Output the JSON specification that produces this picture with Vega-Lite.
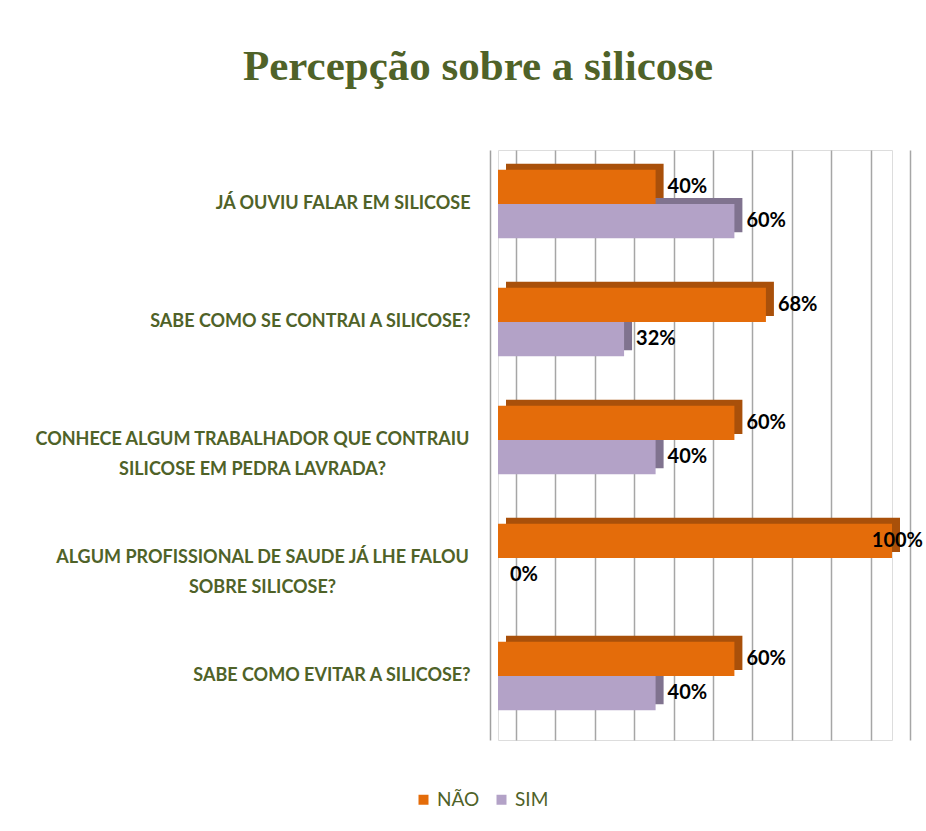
{
  "$schema": "https://vega.github.io/schema/vega-lite/v6.json",
  "width": 394,
  "height": 590,
  "autosize": {"type": "none"},
  "padding": {"left": 498, "top": 150, "right": 34, "bottom": 91},
  "background": "white",
  "title": {
    "text": "Percepção sobre a silicose",
    "font": "Liberation Serif",
    "fontSize": 43,
    "fontWeight": "bold",
    "color": "#4F6228",
    "anchor": "middle",
    "frame": "group",
    "dx": -217,
    "offset": 27,
    "baseline": "alphabetic"
  },
  "data": {
    "values": [
      {"pergunta": "JÁ OUVIU FALAR EM SILICOSE", "resposta": "NÃO", "valor": 0.40},
      {"pergunta": "JÁ OUVIU FALAR EM SILICOSE", "resposta": "SIM", "valor": 0.60},
      {"pergunta": "SABE COMO SE CONTRAI A SILICOSE?", "resposta": "NÃO", "valor": 0.68},
      {"pergunta": "SABE COMO SE CONTRAI A SILICOSE?", "resposta": "SIM", "valor": 0.32},
      {"pergunta": "CONHECE ALGUM TRABALHADOR QUE CONTRAIU SILICOSE EM PEDRA LAVRADA?", "resposta": "NÃO", "valor": 0.60},
      {"pergunta": "CONHECE ALGUM TRABALHADOR QUE CONTRAIU SILICOSE EM PEDRA LAVRADA?", "resposta": "SIM", "valor": 0.40},
      {"pergunta": "ALGUM PROFISSIONAL DE SAUDE JÁ LHE FALOU SOBRE SILICOSE?", "resposta": "NÃO", "valor": 1.00},
      {"pergunta": "ALGUM PROFISSIONAL DE SAUDE JÁ LHE FALOU SOBRE SILICOSE?", "resposta": "SIM", "valor": 0.00},
      {"pergunta": "SABE COMO EVITAR A SILICOSE?", "resposta": "NÃO", "valor": 0.60},
      {"pergunta": "SABE COMO EVITAR A SILICOSE?", "resposta": "SIM", "valor": 0.40}
    ]
  },
  "encoding": {
    "y": {
      "field": "pergunta",
      "type": "nominal",
      "sort": null,
      "scale": {"paddingInner": 0.42, "paddingOuter": 0.21, "align": 0.4},
      "axis": {
        "title": null,
        "offset": 8,
        "ticks": false,
        "domainColor": "#A0A0A0",
        "domainWidth": 1.5,
        "labelFont": "Lato",
        "labelFontSize": 18,
        "labelFontWeight": "bold",
        "labelColor": "#4F6228",
        "labelLimit": 0,
        "labelLineHeight": 30,
        "labelBaseline": "middle",
        "labelExpr": "datum.value == 'CONHECE ALGUM TRABALHADOR QUE CONTRAIU SILICOSE EM PEDRA LAVRADA?' ? ['CONHECE ALGUM TRABALHADOR QUE CONTRAIU', 'SILICOSE EM PEDRA LAVRADA?'] : datum.value == 'ALGUM PROFISSIONAL DE SAUDE JÁ LHE FALOU SOBRE SILICOSE?' ? ['ALGUM PROFISSIONAL DE SAUDE JÁ LHE FALOU', 'SOBRE SILICOSE?'] : datum.value",
        "labelAlign": {"condition": {"test": "length(datum.value) > 40", "value": "center"}, "value": "right"},
        "labelPadding": {
          "condition": [
            {"test": "indexof(datum.value, 'CONHECE') == 0", "value": 238},
            {"test": "indexof(datum.value, 'ALGUM') == 0", "value": 228}
          ],
          "value": 20
        }
      }
    },
    "x": {
      "field": "valor",
      "type": "quantitative",
      "scale": {"domain": [0, 1]},
      "axis": {
        "title": null,
        "labels": false,
        "ticks": false,
        "domain": false,
        "grid": true,
        "gridColor": "#A6A6A6",
        "gridWidth": 1.5,
        "values": [0, 0.1, 0.2, 0.3, 0.4, 0.5, 0.6, 0.7, 0.8, 0.9, 1.0],
        "tickOffset": 18
      }
    }
  },
  "layer": [
    {
      "mark": {"type": "bar", "xOffset": 8, "x2Offset": 8},
      "encoding": {
        "yOffset": {"field": "resposta", "sort": ["NÃO", "SIM"], "scale": {"domain": ["NÃO", "SIM"], "range": [-6, 62.4]}},
        "color": {
          "field": "resposta",
          "scale": {"domain": ["NÃO", "SIM"], "range": ["#A9500A", "#80738F"]},
          "legend": null
        }
      }
    },
    {
      "mark": {"type": "bar"},
      "encoding": {
        "yOffset": {"field": "resposta", "sort": ["NÃO", "SIM"], "scale": {"domain": ["NÃO", "SIM"]}},
        "color": {
          "field": "resposta",
          "scale": {"domain": ["NÃO", "SIM"], "range": ["#E46C0A", "#B3A2C7"]},
          "legend": {
            "title": null,
            "orient": "none",
            "legendX": -84,
            "legendY": 640,
            "direction": "horizontal",
            "symbolType": "square",
            "symbolSize": 100,
            "symbolStrokeWidth": 0,
            "labelFont": "Lato",
            "labelFontSize": 19,
            "labelColor": "#4F6228",
            "columnPadding": 12
          }
        }
      }
    },
    {
      "transform": [{"filter": "datum.valor < 1"}],
      "mark": {"type": "text", "align": "left", "dx": 12, "baseline": "middle", "font": "Lato", "fontSize": 20, "fontWeight": "bold", "color": "black"},
      "encoding": {
        "yOffset": {"field": "resposta", "sort": ["NÃO", "SIM"], "scale": {"domain": ["NÃO", "SIM"]}},
        "text": {"field": "valor", "format": ".0%"}
      }
    },
    {
      "transform": [{"filter": "datum.valor >= 1"}],
      "mark": {"type": "text", "align": "right", "dx": 31, "baseline": "middle", "font": "Lato", "fontSize": 20, "fontWeight": "bold", "color": "black"},
      "encoding": {
        "yOffset": {"field": "resposta", "sort": ["NÃO", "SIM"], "scale": {"domain": ["NÃO", "SIM"]}},
        "text": {"field": "valor", "format": ".0%"}
      }
    }
  ],
  "resolve": {"scale": {"color": "independent", "yOffset": "independent"}}
}
